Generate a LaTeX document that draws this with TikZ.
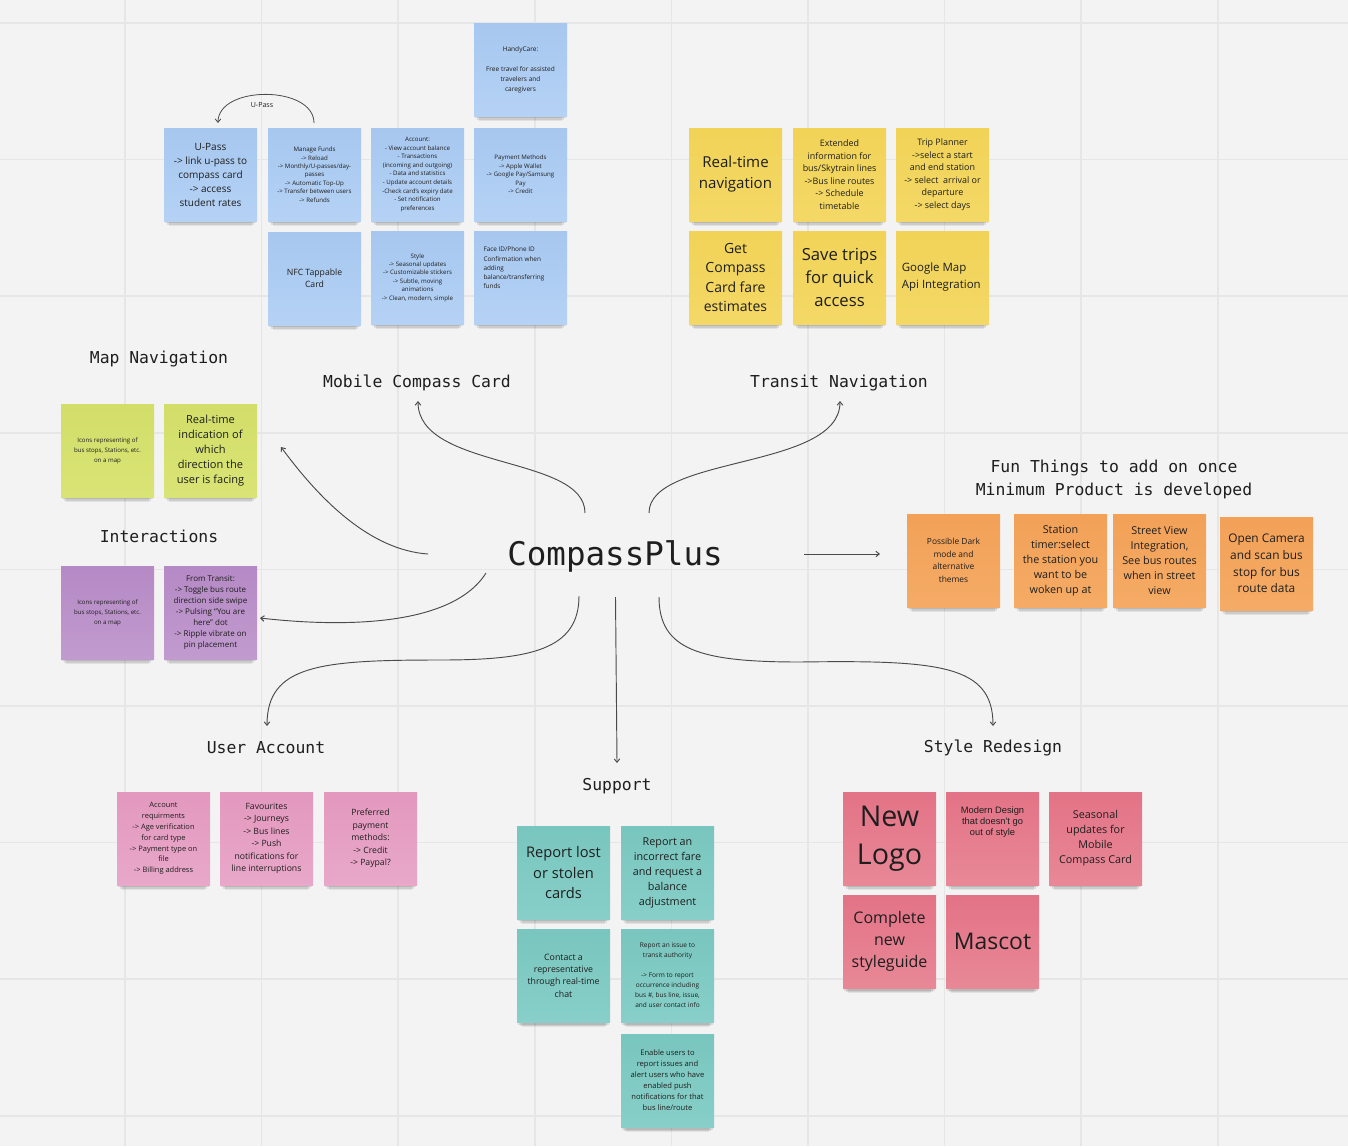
\documentclass[tikz,border=0pt]{standalone}
\usepackage{fontspec}
\setmainfont{Open Sans}
\newfontfamily\monof{DejaVu Sans Mono}
\newfontfamily\arialf{Liberation Sans}
\usetikzlibrary{arrows.meta,shadows}
\definecolor{bg}{HTML}{F3F3F3}
\definecolor{gridc}{HTML}{E6E6E6}
\definecolor{txt}{HTML}{1E1E1E}
\definecolor{linec}{HTML}{4A4A4A}
\definecolor{bluetop}{HTML}{A7C7EF}\definecolor{bluebot}{HTML}{B5D2F5}
\definecolor{yeltop}{HTML}{F1D357}\definecolor{yelbot}{HTML}{F4D866}
\definecolor{grntop}{HTML}{D2DE68}\definecolor{grnbot}{HTML}{D9E476}
\definecolor{purtop}{HTML}{B589C5}\definecolor{purbot}{HTML}{C19BCF}
\definecolor{orgtop}{HTML}{F2A157}\definecolor{orgbot}{HTML}{F5AB66}
\definecolor{pnktop}{HTML}{E398BE}\definecolor{pnkbot}{HTML}{E8A8C9}
\definecolor{teltop}{HTML}{79C6BF}\definecolor{telbot}{HTML}{87CFC8}
\definecolor{redtop}{HTML}{E37386}\definecolor{redbot}{HTML}{E88897}
\newcommand\fsz[2]{\fontsize{#1}{#2}\selectfont}
\tikzset{
  note/.style={draw=none, top color=#1top, bottom color=#1bot,
    minimum width=69.75pt, minimum height=69.75pt, inner sep=0pt,
    align=center, text=txt,
    general shadow={fill=black, opacity=0.07, shadow scale=0.9, shadow yshift=-8pt},
    general shadow={fill=black, opacity=0.09, shadow scale=0.94, shadow yshift=-5.5pt},
    general shadow={fill=black, opacity=0.10, shadow scale=0.97, shadow yshift=-3pt}},
  lbl/.style={font=\monof\fsz{12.3}{17.25}, text=txt, align=center, inner sep=0pt},
  conn/.style={draw=linec, line width=0.7pt, -{Straight Barb[length=2.6pt,width=4.2pt]}},
}
\newcommand\stk[6]{\node[note=#4, font=#5] (#1) at (#2+46.5,#3+46.5) {#6};}
\begin{document}
\begin{tikzpicture}[x=0.75pt,y=-0.75pt]
\fill[bg] (0,0) rectangle (1348,1146);
\useasboundingbox (0,0) rectangle (1348,1146);
% grid
\foreach \gx in {125,261.6,398.2,534.8,671.4,808,944.6,1081.2,1217.8}
  \draw[gridc, line width=1.1pt] (\gx,0) -- (\gx,1146);
\foreach \gy in {23,159.6,296.2,432.8,569.4,706,842.6,979.2,1115.8}
  \draw[gridc, line width=1.1pt] (0,\gy) -- (1348,\gy);

% ---------- Mobile Compass Card (blue)
\stk{handy}{474}{23}{blue}{\fsz{4.9}{7.5}}{HandyCare:\\[7.5pt]Free travel for assisted\\travelers and\\caregivers}
\stk{upass}{164}{128}{blue}{\fsz{7.5}{10.5}}{U-Pass\\-> link u-pass to\\compass card\\-> access\\student rates}
\stk{funds}{268}{128}{blue}{\fsz{4.6}{6.3}}{Manage Funds\\-> Reload\\-> Monthly/U-passes/day-\\passes\\-> Automatic Top-Up\\-> Transfer between users\\-> Refunds}
\stk{acct}{371}{128}{blue}{\fsz{4.6}{6.4}}{Account:\\- View account balance\\- Transactions\\(incoming and outgoing)\\- Data and statistics\\- Update account details\\-Check card's expiry date\\- Set notification\\preferences}
\stk{paym}{474}{128}{blue}{\fsz{4.6}{6.4}}{Payment Methods\\-> Apple Wallet\\-> Google Pay/Samsung\\Pay\\-> Credit}
\stk{nfc}{268}{232}{blue}{\fsz{6.5}{9}}{NFC Tappable\\Card}
\stk{style}{371}{231}{blue}{\fsz{4.6}{6.3}}{Style\\-> Seasonal updates\\-> Customizable stickers\\-> Subtle, moving\\animations\\-> Clean, modern, simple}
\stk{faceid}{474}{231}{blue}{\fsz{4.8}{6.9}}{\parbox[c][45.75pt][t]{55.5pt}{\raggedright Face ID/Phone ID\\Confirmation when\\adding\\balance/transferring\\funds}}

% ---------- Transit Navigation (yellow)
\stk{rtnav}{689}{128}{yel}{\fsz{11.3}{15.75}}{Real-time\\navigation}
\stk{ext}{793}{128}{yel}{\fsz{6.7}{9.4}}{Extended\\information for\\bus/Skytrain lines\\->Bus line routes\\-> Schedule\\timetable}
\stk{trip}{896}{128}{yel}{\fsz{6.7}{9.4}}{Trip Planner\\->select a start\\and end station\\-> select\ \ arrival or\\departure\\-> select days}
\stk{fare}{689}{231}{yel}{\fsz{10.5}{14.6}}{Get\\Compass\\Card fare\\estimates}
\stk{save}{793}{231}{yel}{\fsz{12.5}{17.3}}{Save trips\\for quick\\access}
\stk{gmap}{896}{231}{yel}{\fsz{8.6}{12.75}}{\parbox{61pt}{\raggedright Google Map\\Api Integration}}

% ---------- Map navigation (green)
\stk{icong}{61}{404}{grn}{\fsz{4.6}{7.5}}{Icons representing of\\bus stops, Stations, etc.\\on a map}
\stk{facing}{164}{404}{grn}{\fsz{8.3}{11.25}}{Real-time\\indication of\\which\\direction the\\user is facing}

% ---------- Interactions (purple)
\stk{iconp}{61}{566}{pur}{\fsz{4.6}{7.5}}{Icons representing of\\bus stops, Stations, etc.\\on a map}
\stk{transit}{164}{566}{pur}{\fsz{6}{8.25}}{From Transit:\\-> Toggle bus route\\direction side swipe\\-> Pulsing “You are\\here” dot\\-> Ripple vibrate on\\pin placement}

% ---------- Fun things (orange)
\stk{dark}{907}{514}{org}{\fsz{6.3}{9.4}}{Possible Dark\\mode and\\alternative\\themes}
\stk{timer}{1014}{514}{org}{\fsz{8.1}{11.25}}{Station\\timer:select\\the station you\\want to be\\woken up at}
\stk{street}{1113}{514}{org}{\fsz{8.1}{11.25}}{Street View\\Integration,\\See bus routes\\when in street\\view}
\stk{camera}{1220}{517}{org}{\fsz{8.9}{12.4}}{Open Camera\\and scan bus\\stop for bus\\route data}

% ---------- User account (pink)
\stk{req}{117}{792}{pnk}{\fsz{5.6}{8.1}}{Account\\requirments\\-> Age verification\\for card type\\-> Payment type on\\file\\-> Billing address}
\stk{fav}{220}{792}{pnk}{\fsz{6.5}{9.4}}{Favourites\\-> Journeys\\-> Bus lines\\-> Push\\notifications for\\line interruptions}
\stk{pref}{324}{792}{pnk}{\fsz{6.5}{9.3}}{Preferred\\payment\\methods:\\-> Credit\\-> Paypal?}

% ---------- Support (teal)
\stk{lost}{517}{826}{tel}{\fsz{11}{15.4}}{Report lost\\or stolen\\cards}
\stk{incorr}{621}{826}{tel}{\fsz{8.1}{11.25}}{Report an\\incorrect fare\\and request a\\balance\\adjustment}
\stk{contact}{517}{929}{tel}{\fsz{6.6}{9.2}}{Contact a\\representative\\through real-time\\chat}
\stk{issue}{621}{929}{tel}{\fsz{4.9}{7.5}}{Report an issue to\\transit authority\\[7.5pt]-> Form to report\\occurrence including\\bus \#, bus line, issue,\\and user contact info}
\stk{enable}{621}{1034}{tel}{\fsz{5.7}{8.25}}{Enable users to\\report issues and\\alert users who have\\enabled push\\notifications for that\\bus line/route}

% ---------- Style redesign (red)
\stk{logo}{843}{792}{red}{\fsz{21.5}{28.5}}{New\\Logo}
\stk{modern}{946}{792}{red}{\arialf\fsz{7}{8.25}}{\parbox[c][47pt][t]{63pt}{\centering Modern Design\\that doesn't go\\out of style}}
\stk{season}{1049}{792}{red}{\fsz{8.1}{11.25}}{Seasonal\\updates for\\Mobile\\Compass Card}
\stk{guide}{843}{895}{red}{\fsz{12}{16.5}}{Complete\\new\\styleguide}
\stk{mascot}{946}{895}{red}{\fsz{17.2}{24}}{Mascot}

% ---------- labels
\node[font=\monof\fsz{24.4}{28}, text=txt, inner sep=0pt] (cp) at (615,556) {CompassPlus};
\node[lbl] (mapnav) at (159,359) {Map Navigation};
\node[lbl] (mcc) at (417,383) {Mobile Compass Card};
\node[lbl] (tnav) at (839,383) {Transit Navigation};
\node[lbl] (inter) at (159,536) {Interactions};
\node[lbl] (fun) at (1114,479) {Fun Things to add on once\\Minimum Product is developed};
\node[lbl] (uacc) at (266,748) {User Account};
\node[lbl] (supp) at (617,786) {Support};
\node[lbl] (sred) at (993,748) {Style Redesign};
\node[font=\fsz{5.3}{6}, text=txt, inner sep=0pt] (uplbl) at (262,105) {U-Pass};

% ---------- connector end points
\coordinate (c1s) at (585,513); \coordinate (c1e) at (418,401);
\coordinate (c2s) at (649,513); \coordinate (c2e) at (840,401);
\coordinate (c3s) at (428,554); \coordinate (c3e) at (281,447);
\coordinate (c4s) at (486,573); \coordinate (c4e) at (260,618);
\coordinate (c5s) at (579,596); \coordinate (c5e) at (267,726);
\coordinate (c6s) at (615.5,597); \coordinate (c6e) at (617,763);
\coordinate (c7s) at (659,597); \coordinate (c7e) at (993,726);
\coordinate (c8s) at (804,554); \coordinate (c8e) at (880,554);
\coordinate (ups) at (314,123); \coordinate (upe) at (218,123);

\draw[conn] (c1s) .. controls (585,455) and (418,470) .. (c1e);
\draw[conn] (c2s) .. controls (649,455) and (840,470) .. (c2e);
\draw[conn] (c3s) .. controls (370,550) and (320,500) .. (c3e);
\draw[conn] (c4s) .. controls (450,630) and (330,626) .. (c4e);
\draw[conn] (c5s) .. controls (579,650) and (530,660) .. (440,660)
               .. controls (320,660) and (267,665) .. (c5e);
\draw[conn] (c6s) -- (c6e);
\draw[conn] (c7s) .. controls (659,650) and (700,662) .. (800,662)
               .. controls (940,660) and (993,665) .. (c7e);
\draw[conn] (c8s) -- (c8e);
\draw[conn, line width=0.6pt] (ups) .. controls (314,85) and (218,85) .. (upe);
\end{tikzpicture}
\end{document}
